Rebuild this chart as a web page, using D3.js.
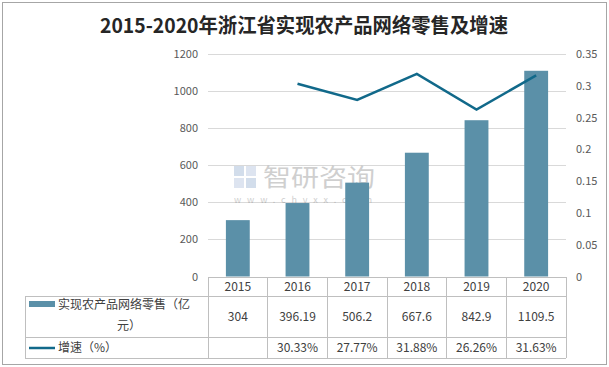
<!DOCTYPE html>
<html><head><meta charset="utf-8">
<script src="https://cdn.jsdelivr.net/npm/d3@7"></script>
<style>body{margin:0;background:#fff}svg{display:block}</style>
</head><body>
<script>
const title = "2015-2020年浙江省实现农产品网络零售及增速";
const years = ["2015","2016","2017","2018","2019","2020"];
const sales = [304, 396.19, 506.2, 667.6, 842.9, 1109.5];
const salesLabels = ["304","396.19","506.2","667.6","842.9","1109.5"];
const growth = [null, 0.3033, 0.2777, 0.3188, 0.2626, 0.3163];
const growthLabels = ["", "30.33%", "27.77%", "31.88%", "26.26%", "31.63%"];
const leftTicks = [0,200,400,600,800,1000,1200];
const rightTicks = [0,0.05,0.1,0.15,0.2,0.25,0.3,0.35];
const seriesNames = ["实现农产品网络零售（亿元）", "增速（%）"];

const W = 609, H = 367;
const barColor = "#5b90a8", lineColor = "#11698a", gridColor = "#d9d9d9", tableColor = "#bfbfbf", textColor = "#404040", axisText = "#595959";
const font = "'Noto Sans CJK SC', 'Liberation Sans', sans-serif";

const svg = d3.select("body").append("svg").attr("width", W).attr("height", H);
svg.append("rect").attr("x",2.5).attr("y",2.5).attr("width",604).attr("height",362).attr("fill","#fff").attr("stroke","#a6a6a6");

const plotL = 208, plotR = 566, plotT = 54, plotB = 276.5;
const x = d3.scaleBand().domain(years).range([plotL, plotR]).padding(0);
const y = d3.scaleLinear().domain([0,1200]).range([plotB, plotT]);
const y2 = d3.scaleLinear().domain([0,0.35]).range([plotB, plotT]);

svg.append("text").attr("x", 304).attr("y", 33).attr("text-anchor","middle")
  .attr("font-family", font).attr("font-weight","bold").attr("font-size",20).attr("fill","#262626")
  .attr("textLength", 408).attr("lengthAdjust","spacingAndGlyphs").text(title);

// gridlines
svg.append("g").selectAll("line").data(leftTicks.filter(d=>d>0)).join("line")
  .attr("x1", plotL).attr("x2", plotR).attr("y1", d=>Math.round(y(d))+0.5).attr("y2", d=>Math.round(y(d))+0.5)
  .attr("stroke", gridColor);

// left axis
const la = svg.append("g").attr("transform", `translate(${plotL-10},0)`)
  .call(d3.axisLeft(y).tickValues(leftTicks).tickSize(0).tickPadding(0).tickFormat(d3.format("d")));
la.select(".domain").remove();
la.selectAll("text").attr("font-family", font).attr("font-size", 11).attr("fill", axisText);

// right axis
const ra = svg.append("g").attr("transform", `translate(${plotR+10},0)`)
  .call(d3.axisRight(y2).tickValues(rightTicks).tickSize(0).tickPadding(0).tickFormat(d=>String(+d.toFixed(2))));
ra.select(".domain").remove();
ra.selectAll("text").attr("font-family", font).attr("font-size", 11).attr("fill", axisText);

// watermark
const wm = svg.append("g").attr("opacity", 0.35);
wm.append("rect").attr("x",234).attr("y",166).attr("width",10).attr("height",10).attr("fill","#7f9fc8");
wm.append("rect").attr("x",246).attr("y",166).attr("width",10).attr("height",10).attr("fill","#9fb4d6");
wm.append("rect").attr("x",234).attr("y",178).attr("width",10).attr("height",10).attr("fill","#9fb4d6");
wm.append("rect").attr("x",246).attr("y",178).attr("width",10).attr("height",10).attr("fill","#7f9fc8");
wm.append("text").attr("x",263).attr("y",186).attr("font-family",font).attr("font-size",24).attr("fill","#777").attr("textLength",112).attr("lengthAdjust","spacingAndGlyphs").text("智研咨询");
wm.append("text").attr("x",234).attr("y",203).attr("font-family",font).attr("font-size",9).attr("fill","#777").attr("textLength",138).text("www.chyxx.com");

// bars
const bw = x.bandwidth()*0.4;
svg.append("g").selectAll("rect").data(sales).join("rect")
  .attr("x", (d,i)=>x(years[i]) + x.bandwidth()/2 - bw/2)
  .attr("y", d=>y(d)).attr("width", bw).attr("height", d=>plotB - y(d))
  .attr("fill", barColor);

// line
const pts = growth.map((g,i)=>({g, yr: years[i]})).filter(d=>d.g!=null);
svg.append("path").datum(pts)
  .attr("d", d3.line().x(d=>x(d.yr)+x.bandwidth()/2).y(d=>y2(d.g)))
  .attr("fill","none").attr("stroke", lineColor).attr("stroke-width", 2.5).attr("stroke-linejoin","miter");

// table
const tT = 277, r1 = 296, r2 = 337, r3 = 358, tL = 25;
const tg = svg.append("g").attr("stroke", tableColor).attr("stroke-width",1).attr("shape-rendering","crispEdges");
tg.append("line").attr("x1",plotL).attr("x2",plotR).attr("y1",tT).attr("y2",tT);
[r1,r2,r3].forEach(yy=>tg.append("line").attr("x1",tL).attr("x2",plotR).attr("y1",yy).attr("y2",yy));
tg.append("line").attr("x1",tL).attr("x2",tL).attr("y1",r1).attr("y2",r3);
years.forEach(yr=>tg.append("line").attr("x1",x(yr)).attr("x2",x(yr)).attr("y1",tT).attr("y2",r3));
tg.append("line").attr("x1",plotR).attr("x2",plotR).attr("y1",tT).attr("y2",r3);

const txt = svg.append("g").attr("font-family", font).attr("font-size", 12).attr("fill", textColor).attr("text-anchor","middle");
years.forEach((yr,i)=>{
  const cx = x(yr)+x.bandwidth()/2;
  txt.append("text").attr("x",cx).attr("y",(tT+r1)/2+4.5).text(yr);
  txt.append("text").attr("x",cx).attr("y",(r1+r2)/2+4.5).text(salesLabels[i]);
  txt.append("text").attr("x",cx).attr("y",(r2+r3)/2+4.5).text(growthLabels[i]);
});

// legend cells
svg.append("rect").attr("x",29).attr("y",301).attr("width",26).attr("height",6).attr("fill",barColor);
const n0 = seriesNames[0];
txt.append("text").attr("x",58).attr("y",309).attr("text-anchor","start").text(n0.slice(0,11));
txt.append("text").attr("x",129).attr("y",330).text(n0.slice(11));
svg.append("line").attr("x1",29).attr("x2",55).attr("y1",348).attr("y2",348).attr("stroke",lineColor).attr("stroke-width",2.5);
txt.append("text").attr("x",58).attr("y",352).attr("text-anchor","start").text(seriesNames[1]);
</script>
</body></html>
